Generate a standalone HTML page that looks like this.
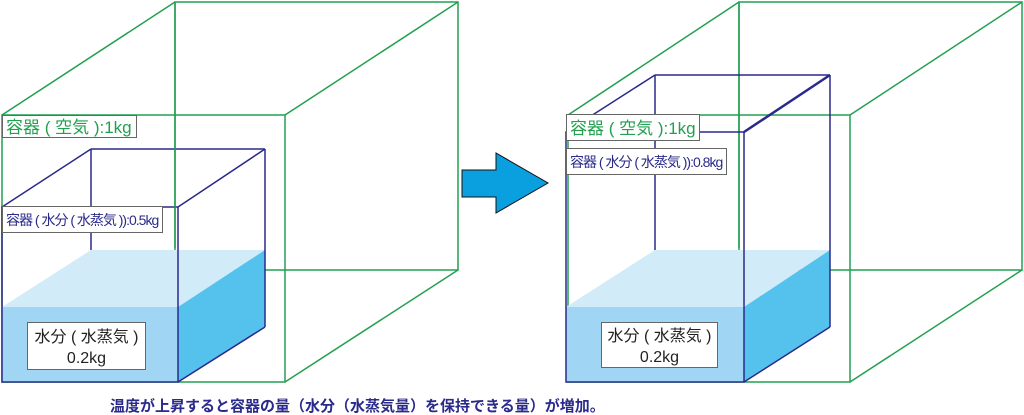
<!DOCTYPE html>
<html><head><meta charset="utf-8"><style>
body{margin:0;background:#fff;width:1024px;height:415px;overflow:hidden;position:relative;font-family:"Liberation Sans","Noto Sans CJK JP",sans-serif}
svg{position:absolute;left:0;top:0}
.lb{position:absolute;background:#fff;border:1px solid #666;box-sizing:border-box;white-space:nowrap;line-height:1;overflow:hidden}
</style></head><body>
<svg width="1024" height="415" viewBox="0 0 1024 415">
<g fill="none" stroke-width="1.5">
<g stroke="#22a050">
<rect x="2" y="115" width="283" height="267"/>
<rect x="175" y="2" width="283" height="268"/>
<line x1="2" y1="115" x2="175" y2="2"/><line x1="285" y1="115" x2="458" y2="2"/>
<line x1="285" y1="382" x2="458" y2="270"/>
</g>
</g>
<polygon points="2,307 91,250 265,250 178,307" fill="#d2ebf8"/>
<rect x="2" y="307" width="176" height="75" fill="#a0d6f4"/>
<polygon points="178,307 265,250 265,327 178,382" fill="#55c2ee"/>
<g fill="none" stroke="#2a2a8a" stroke-width="1.5">
<rect x="2" y="207" width="176" height="175"/>
<line x1="91" y1="149" x2="265" y2="149"/><line x1="91" y1="149" x2="91" y2="250"/>
<line x1="265" y1="149" x2="265" y2="327"/>
<line x1="2" y1="207" x2="91" y2="149"/><line x1="178" y1="207" x2="265" y2="149"/>
<line x1="178" y1="382" x2="265" y2="327"/>
</g>
<line x1="175" y1="2" x2="175" y2="248" stroke="#22a050" stroke-width="1.5"/>
<g fill="none" stroke="#22a050" stroke-width="1.5">
<rect x="568" y="115" width="282" height="267"/>
<rect x="739" y="2" width="283" height="268"/>
<line x1="568" y1="115" x2="739" y2="2"/><line x1="850" y1="115" x2="1022" y2="2"/>
<line x1="850" y1="382" x2="1022" y2="270"/>
</g>
<polygon points="566,307 655,250 830,250 744,307" fill="#d2ebf8"/>
<rect x="566" y="307" width="178" height="75" fill="#a0d6f4"/>
<polygon points="744,307 830,250 830,327 744,382" fill="#55c2ee"/>
<line x1="739" y1="2" x2="739" y2="248" stroke="#22a050" stroke-width="1.5"/>
<g fill="none" stroke="#2a2a8a" stroke-width="1.5">
<rect x="566" y="132" width="178" height="250"/>
<line x1="655" y1="75" x2="830" y2="75"/><line x1="655" y1="75" x2="655" y2="250"/>
<line x1="830" y1="75" x2="830" y2="327"/>
<line x1="566" y1="132" x2="655" y2="75"/><line x1="744" y1="132" x2="830" y2="75" stroke-width="2.5"/>
<line x1="744" y1="382" x2="830" y2="327"/>
</g>
<polygon points="462,170 496,170 496,153 548,183 496,213 496,197 462,197" fill="#0aa0e0" stroke="#111" stroke-width="1"/>
</svg>
<div class="lb" style="left:2px;top:115px;width:135px;height:23px;color:#22a050;font-size:17px;padding:3px 0 0 3px">容器 ( 空気 ):1kg</div>
<div class="lb" style="left:2px;top:206px;width:161px;height:27px;color:#2a2a8a;font-size:14px;padding:6px 0 0 3px;letter-spacing:-1px">容器 ( 水分 ( 水蒸気 )):0.5kg</div>
<div class="lb" style="left:27px;top:322px;width:119px;height:48px;color:#222;font-size:16px;text-align:center;padding-top:4px;line-height:21px">水分 ( 水蒸気 )<br>0.2kg</div>
<div class="lb" style="left:566px;top:114px;width:134px;height:27px;color:#22a050;font-size:17px;padding:5px 0 0 3px">容器 ( 空気 ):1kg</div>
<div class="lb" style="left:566px;top:148px;width:161px;height:27px;color:#2a2a8a;font-size:14px;padding:6px 0 0 3px;letter-spacing:-1px">容器 ( 水分 ( 水蒸気 )):0.8kg</div>
<div class="lb" style="left:601px;top:322px;width:117px;height:46px;color:#222;font-size:16px;text-align:center;padding-top:3px;line-height:21px">水分 ( 水蒸気 )<br>0.2kg</div>
<div style="position:absolute;left:110px;top:399px;font-size:15px;font-weight:bold;color:#2a2a8a;white-space:nowrap;line-height:16px">温度が上昇すると容器の量（水分（水蒸気量）を保持できる量）が増加。</div>
</body></html>
